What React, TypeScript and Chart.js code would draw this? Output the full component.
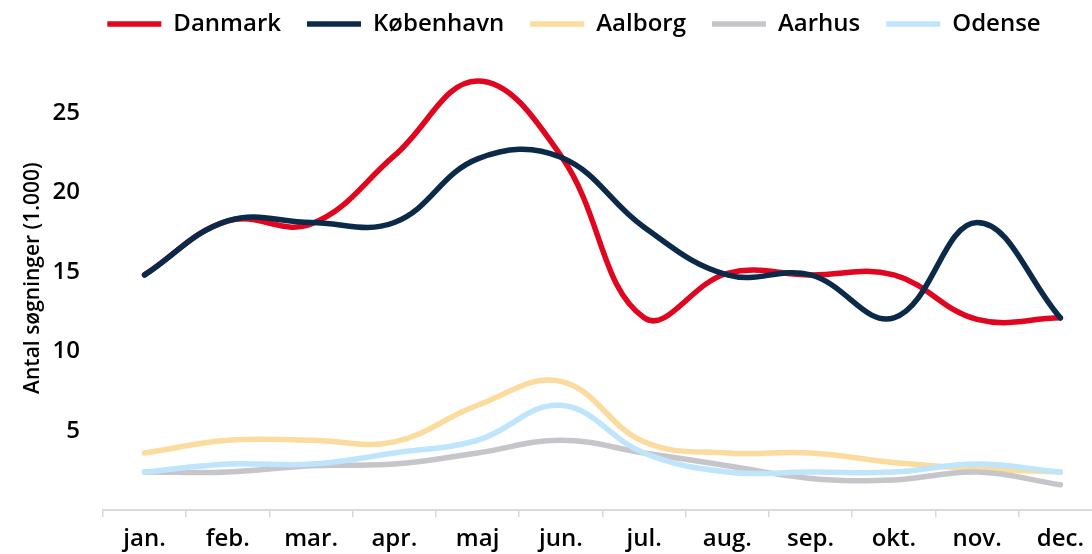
import { useEffect, useRef } from "react";
import { Chart, registerables } from "chart.js";

Chart.register(...registerables);

const months = ["jan.", "feb.", "mar.", "apr.", "maj", "jun.", "jul.", "aug.", "sep.", "okt.", "nov.", "dec."];
const danmark = [14.8, 18.2, 18.0, 22.3, 27.0, 22.3, 12.1, 14.9, 14.8, 14.8, 12.0, 12.1];
const koebenhavn = [14.8, 18.2, 18.1, 18.1, 22.1, 22.2, 17.8, 14.8, 14.8, 12.1, 18.1, 12.1];
const aalborg = [3.6, 4.4, 4.4, 4.3, 6.6, 8.1, 4.3, 3.6, 3.6, 3.0, 2.6, 2.4];
const aarhus = [2.4, 2.4, 2.8, 2.9, 3.6, 4.4, 3.6, 2.8, 2.0, 1.9, 2.4, 1.6];
const odense = [2.4, 2.9, 2.9, 3.6, 4.4, 6.6, 3.6, 2.4, 2.4, 2.4, 2.9, 2.4];
const yTickLabels = [5, 10, 15, 20, 25];

const seriesNames = ["Danmark", "København", "Aalborg", "Aarhus", "Odense"];
const seriesColors = ["#E1061F", "#0B2A4A", "#FBDB9E", "#C6C6CA", "#BEE5FB"];
const seriesValues = [danmark, koebenhavn, aalborg, aarhus, odense];

const FONT = "'Open Sans', 'DejaVu Sans', sans-serif";

export default function App() {
  const ref = useRef<HTMLCanvasElement | null>(null);

  useEffect(() => {
    if (!ref.current) return;
    const chart = new Chart(ref.current, {
      type: "line",
      data: {
        labels: months,
        datasets: seriesNames.map((name, i) => ({
          label: name,
          data: seriesValues[i],
          borderColor: seriesColors[i],
          backgroundColor: seriesColors[i],
          borderWidth: 5.5,
          pointRadius: 0,
          pointHoverRadius: 0,
          tension: 0.4,
          borderCapStyle: "round" as const,
          borderJoinStyle: "round" as const,
          fill: false,
          order: seriesNames.length - i,
        })),
      },
      options: {
        responsive: false,
        animation: false,
        layout: { padding: { top: -14, left: 46, right: 0, bottom: -8 } },
        plugins: {
          tooltip: { enabled: false },
          legend: {
            position: "top",
            align: "center",
            labels: {
              usePointStyle: true,
              pointStyle: "line",
              pointStyleWidth: 54,
              padding: 26,
              color: "#000",
              font: { family: FONT, size: 24, weight: 600 },
              sort: (a: any, b: any) => a.datasetIndex - b.datasetIndex,
            },
          },
        },
        scales: {
          x: {
            offset: true,
            grid: {
              display: true,
              drawOnChartArea: false,
              drawTicks: true,
              tickLength: 7,
              color: "#D9D9D9",
              lineWidth: 1.5,
              offset: true,
            },
            border: { display: true, color: "#D9D9D9", width: 2 },
            ticks: {
              color: "#000",
              font: { family: FONT, size: 24, weight: 600 },
              padding: 8,
              maxRotation: 0,
              autoSkip: false,
            },
          },
          y: {
            min: 0,
            max: 29.2,
            grid: { display: false, drawTicks: false },
            border: { display: false },
            ticks: {
              stepSize: 5,
              padding: 23,
              color: "#000",
              font: { family: FONT, size: 24, weight: 600 },
              callback: (v: any) => (yTickLabels.includes(Number(v)) ? String(v) : ""),
            },
            title: {
              display: true,
              text: "Antal søgninger (1.000)",
              color: "#000",
              font: { family: FONT, size: 21, weight: 600 },
              padding: { top: -25.6, bottom: -16.1 },
            },
          },
        },
      },
    });
    return () => chart.destroy();
  }, []);

  return (
    <div
      style={{
        position: "fixed",
        left: 0,
        top: 0,
        width: 1092,
        height: 554,
        overflow: "hidden",
        background: "#fff",
      }}
    >
      <canvas ref={ref} width={1102} height={554} style={{ display: "block" }} />
    </div>
  );
}
